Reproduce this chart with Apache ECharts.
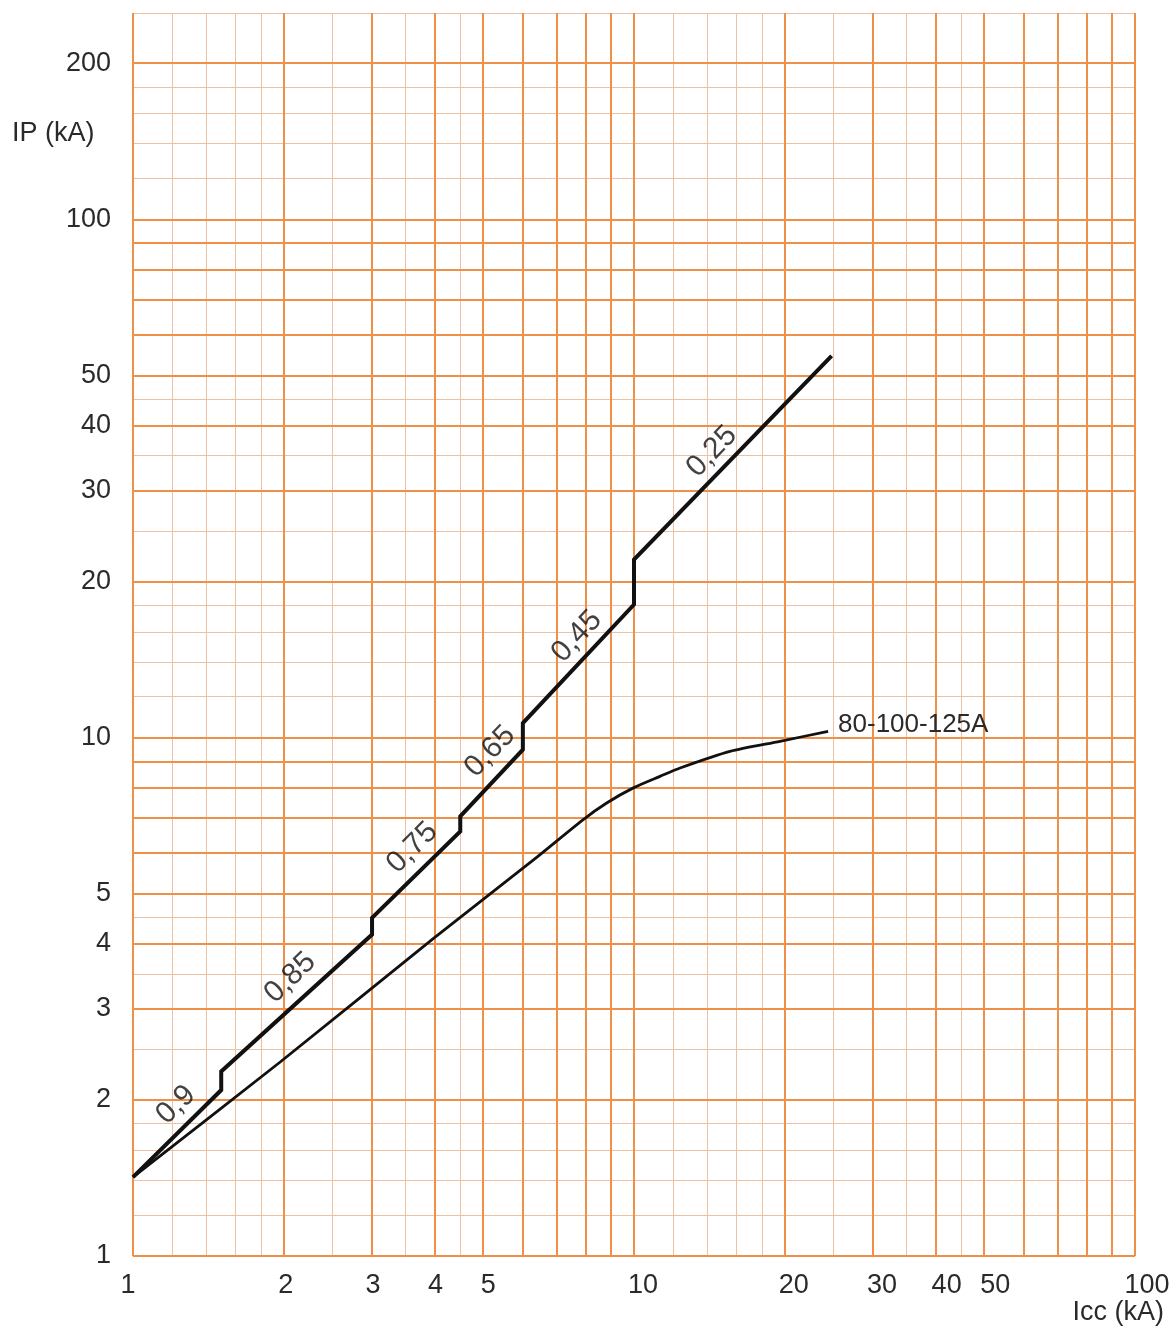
<!DOCTYPE html>
<html><head><meta charset="utf-8">
<script src="https://cdn.jsdelivr.net/npm/echarts@6/dist/echarts.min.js"></script>
<style>html,body{margin:0;padding:0;background:#fff}#c{width:1176px;height:1327px}</style>
</head><body><div id="c"></div>
<script>
// ---------- data ----------
const xTickLabels = [1, 2, 3, 4, 5, 10, 20, 30, 40, 50, 100];
const yTickLabels = [1, 2, 3, 4, 5, 10, 20, 30, 40, 50, 100, 200];
const gridSteps = [1, 1.2, 1.4, 1.6, 1.8, 2, 2.5, 3, 3.5, 4, 4.5, 5, 6, 7, 8, 9];
const xMin = 1, xMax = 100, yMin = 1, yMax = 250;

const upperIcc = [1, 1.5, 1.5, 3, 3, 4.5, 4.5, 6, 6, 10, 10, 24.8];
const upperIp  = [1.42, 2.09, 2.27, 4.17, 4.49, 6.59, 7.05, 9.48, 10.67, 18.06, 22.06, 54.5];

const lowerIcc = [1, 1.97, 3.98, 6.30, 7.92, 8.82, 9.97, 11.27, 12.36, 15.54, 19.56, 24.4];
const lowerIp  = [1.42, 2.37, 4.10, 5.81, 6.95, 7.48, 8.00, 8.42, 8.74, 9.41, 9.84, 10.28];

const cosPhiLabels = ['0,9', '0,85', '0,75', '0,65', '0,45', '0,25'];
const cosPhiIcc = [1.218, 2.06, 3.61, 5.16, 7.69, 14.31];
const cosPhiIp  = [1.957, 3.44, 6.13, 9.40, 15.67, 35.66];

const curveName = '80-100-125A';
const xName = 'Icc (kA)';
const yName = 'IP (kA)';

// ---------- styles ----------
const FONT = '"Liberation Sans", Arial, sans-serif';
const TEXT = '#2a2a2a';
const majorStyle = { color: '#EF9048', width: 2, type: 'solid' };
const minorStyle = { color: '#EEC0A4', width: 1, type: 'solid' };
const xLabelShift = { 1: -5, 2: 2, 3: 1, 4: 1, 5: 5, 10: 9, 20: 9, 30: 9, 40: 11, 50: 11, 100: 12 };
const cosPhiAngles = [44, 44, 45, 46, 47, 46];

function r(v) { return Math.round(v * 1000) / 1000; }
function gridValues(max) {
  const out = [];
  [1, 10, 100].forEach(d => gridSteps.forEach(s => {
    const v = r(s * d);
    if (v <= max) out.push({ v, major: Number.isInteger(s) });
  }));
  return out;
}
const xGrid = gridValues(xMax), yGrid = gridValues(yMax);

function lineItems(key, list, major, ticks) {
  return list.filter(g => g.major === major).map(g => {
    const it = { lineStyle: major ? majorStyle : minorStyle };
    it[key] = g.v;
    if (major && ticks.includes(g.v)) {
      it.label = key === 'yAxis'
        ? { show: true, position: 'start', formatter: String(g.v), distance: 22, fontSize: 27, color: TEXT, fontFamily: FONT }
        : { show: true, position: 'start', formatter: String(g.v), distance: 16, fontSize: 27, color: TEXT, fontFamily: FONT, offset: [xLabelShift[g.v] || 0, 0] };
    }
    return it;
  });
}

function gridSeries(major, z) {
  return {
    type: 'line', data: [], z: z, silent: true,
    markLine: {
      silent: true, symbol: ['none', 'none'], animation: false,
      label: { show: false }, emphasis: { disabled: true },
      data: lineItems('xAxis', xGrid, major, xTickLabels).concat(lineItems('yAxis', yGrid, major, yTickLabels))
    }
  };
}

const labelStyle = {
  show: true, position: [0, 0], align: 'center', verticalAlign: 'middle',
  fontSize: 30, color: '#111111', fontFamily: FONT, fontWeight: 'normal',
  textBorderWidth: 0, textShadowBlur: 0
};

const chart = echarts.init(document.getElementById('c'), null, { renderer: 'canvas' });
chart.setOption({
  animation: false,
  backgroundColor: '#ffffff',
  textStyle: { fontFamily: FONT },
  grid: { left: 133, right: 41, top: 13, bottom: 71, containLabel: false, outerBoundsMode: 'none' },
  xAxis: {
    type: 'log', logBase: 10, min: xMin, max: xMax,
    axisLine: { show: false }, axisTick: { show: false }, axisLabel: { show: false },
    splitLine: { show: false }, minorSplitLine: { show: false }
  },
  yAxis: {
    type: 'log', logBase: 10, min: yMin, max: yMax,
    axisLine: { show: false }, axisTick: { show: false }, axisLabel: { show: false },
    splitLine: { show: false }, minorSplitLine: { show: false }
  },
  graphic: [
    { type: 'text', left: 12, top: 120, style: { text: yName, fontSize: 27, fill: TEXT, fontFamily: FONT } },
    { type: 'text', right: 12, top: 1299, style: { text: xName, fontSize: 27, fill: TEXT, fontFamily: FONT } }
  ],
  series: [
    gridSeries(false, 1),
    gridSeries(true, 2),
    {
      name: 'upper', type: 'line', z: 5, symbol: 'none', silent: true,
      data: upperIcc.map((x, i) => [x, upperIp[i]]),
      lineStyle: { color: '#111', width: 4, join: 'miter' }
    },
    {
      name: curveName, type: 'line', z: 5, symbol: 'none', silent: true, smooth: 0.25,
      data: lowerIcc.map((x, i) => [x, lowerIp[i]]),
      lineStyle: { color: '#111', width: 2.8 },
      endLabel: { show: true, formatter: curveName, distance: 10, offset: [0, -7], fontSize: 26, color: TEXT, fontFamily: FONT }
    },
    {
      type: 'scatter', z: 6, silent: true, symbolSize: 0.01,
      itemStyle: { color: '#111111' },
      label: labelStyle,
      data: cosPhiLabels.map((t, i) => ({
        value: [cosPhiIcc[i], cosPhiIp[i]],
        label: Object.assign({}, labelStyle, { formatter: t, rotate: cosPhiAngles[i] })
      }))
    }
  ]
});
</script>
</body></html>
